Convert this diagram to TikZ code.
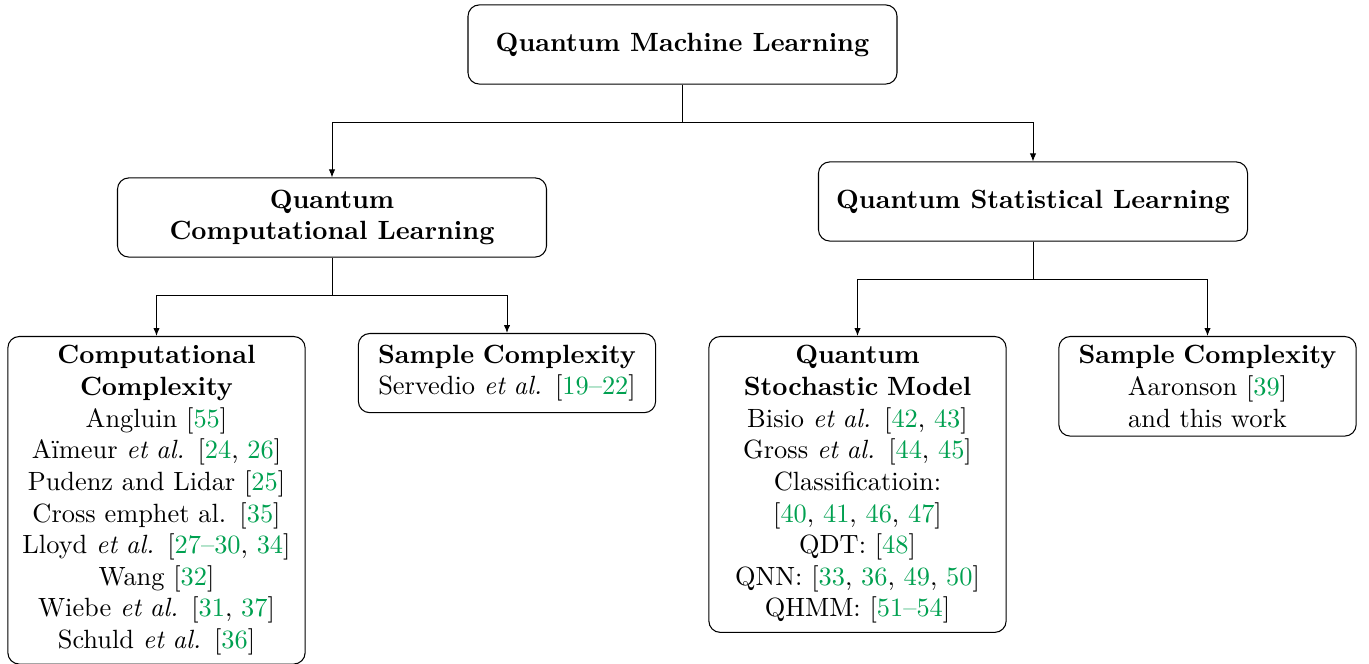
\documentclass[tikz,border=0pt]{standalone}
\usetikzlibrary{arrows.meta}
\definecolor{citegreen}{RGB}{0,160,80}
\newcommand{\cg}[1]{\textcolor{citegreen}{#1}}
\begin{document}
\begin{tikzpicture}[x=0.379pt,y=-0.379pt,
  box/.style={draw,rounded corners=4.3pt,align=center,line width=0.4pt,inner sep=3.33pt},
  bigbox/.style={box,minimum width=162.6pt,minimum height=30pt,font=\bfseries},
  smallbox/.style={box,anchor=north,minimum width=112.6pt,minimum height=30pt,text width=106pt},
  conn/.style={-{Latex[length=3pt,width=2.4pt]},line width=0.35pt}]
\useasboundingbox (0,0) rectangle (1369,664);
\node[bigbox] (root) at (682.5,44.5) {Quantum Machine Learning};
\node[bigbox] (qcl) at (332,217.5) {Quantum\\Computational Learning};
\node[bigbox] (qsl) at (1033,201.5) {Quantum Statistical Learning};
\node[smallbox] (cc) at (156.5,336) {\textbf{Computational}\\\textbf{Complexity}\\
  Angluin [\cg{55}]\\
  Aïmeur \textit{et al.} [\cg{24}, \cg{26}]\\
  Pudenz and Lidar [\cg{25}]\\
  Cross emphet al. [\cg{35}]\\
  Lloyd \textit{et al.} [\cg{27--30}, \cg{34}]\\
  Wang [\cg{32}]\\
  Wiebe \textit{et al.} [\cg{31}, \cg{37}]\\
  Schuld \textit{et al.} [\cg{36}]};
\node[smallbox] (sc1) at (507,333) {\textbf{Sample Complexity}\\
  Servedio \textit{et al.} [\cg{19--22}]};
\node[smallbox] (qsm) at (857.5,336) {\textbf{Quantum}\\\textbf{Stochastic Model}\\
  Bisio \textit{et al.} [\cg{42}, \cg{43}]\\
  Gross \textit{et al.} [\cg{44}, \cg{45}]\\
  Classificatioin:\\
  {[}\cg{40}, \cg{41}, \cg{46}, \cg{47}]\\
  QDT: [\cg{48}]\\
  QNN: [\cg{33}, \cg{36}, \cg{49}, \cg{50}]\\
  QHMM: [\cg{51--54}]};
\node[smallbox] (sc2) at (1207.5,336) {\textbf{Sample Complexity}\\
  Aaronson [\cg{39}]\\
  and this work};
\draw[conn] (root.south) -- ++(0,38) -| (qcl.north);
\draw[conn] (root.south) -- ++(0,38) -| (qsl.north);
\draw[conn] (qcl.south) -- ++(0,38) -| (cc.north);
\draw[conn] (qcl.south) -- ++(0,38) -| (sc1.north);
\draw[conn] (qsl.south) -- ++(0,38) -| (qsm.north);
\draw[conn] (qsl.south) -- ++(0,38) -| (sc2.north);
\end{tikzpicture}
\end{document}
